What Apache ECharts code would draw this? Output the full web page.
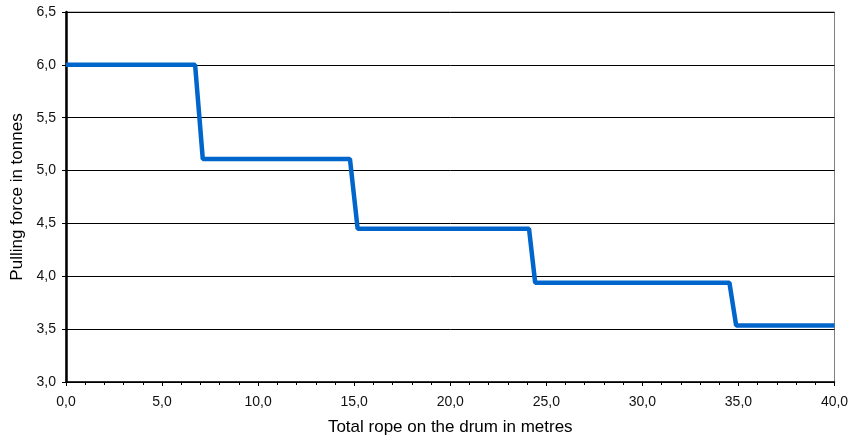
<!DOCTYPE html>
<html>
<head>
<meta charset="utf-8">
<script src="https://cdn.jsdelivr.net/npm/echarts@6/dist/echarts.min.js"></script>
<style>html,body{margin:0;padding:0;background:#fff}#c{width:861px;height:441px}</style>
</head>
<body>
<div id="c"></div>
<script>
const ropeMetres = [0, 6.72, 7.12, 14.78, 15.18, 24.1, 24.42, 34.53, 34.88, 40];
const pullingTonnes = [6.0, 6.0, 5.11, 5.11, 4.45, 4.45, 3.94, 3.94, 3.535, 3.535];
const xTitle = 'Total rope on the drum in metres';
const yTitle = 'Pulling force in tonnes';

const fmt = v => v.toFixed(1).replace('.', ',');
const chart = echarts.init(document.getElementById('c'), null, {renderer: 'canvas'});
chart.setOption({
  animation: false,
  grid: {left: 66, right: 26.5, top: 12, bottom: 58, show: true, borderColor: '#808080', borderWidth: 1, backgroundColor: 'transparent'},
  xAxis: {
    type: 'value', min: 0, max: 40, interval: 5,
    name: xTitle, nameLocation: 'middle', nameGap: 37,
    nameTextStyle: {fontFamily: 'Liberation Sans', fontSize: 17, color: '#000'},
    axisLine: {lineStyle: {color: '#000', width: 1.5}},
    axisTick: {show: true, length: 4, lineStyle: {color: '#000'}},
    minorTick: {show: true, splitNumber: 5, length: 3, lineStyle: {color: '#000'}},
    axisLabel: {formatter: fmt, fontFamily: 'Liberation Sans', fontSize: 14, color: '#111', margin: 13},
    splitLine: {show: false}
  },
  yAxis: {
    type: 'value', min: 3, max: 6.5, interval: 0.5,
    name: yTitle, nameLocation: 'middle', nameGap: 35, nameRotate: 90,
    nameTextStyle: {fontFamily: 'Liberation Sans', fontSize: 17, color: '#000'},
    axisLine: {show: true, lineStyle: {color: '#000', width: 2.5}},
    axisTick: {show: true, length: 4, lineStyle: {color: '#000'}},
    axisLabel: {formatter: fmt, fontFamily: 'Liberation Sans', fontSize: 14, color: '#111', margin: 10},
    splitLine: {show: true, lineStyle: {color: '#000', width: 1}}
  },
  series: [{
    type: 'line',
    data: ropeMetres.map((x, i) => [x, pullingTonnes[i]]),
    showSymbol: false,
    lineStyle: {color: '#0066CC', width: 4.5},
    itemStyle: {color: '#0066CC'}
  }]
});
</script>
</body>
</html>
